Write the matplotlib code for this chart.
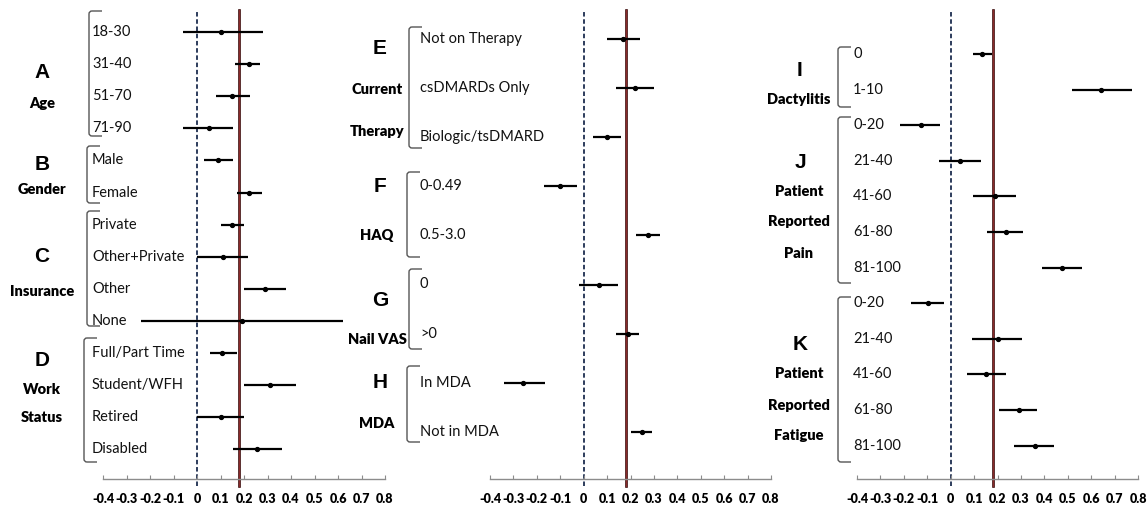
import matplotlib
matplotlib.use("Agg")
import matplotlib.pyplot as plt
from matplotlib.path import Path
from matplotlib.patches import PathPatch

# ---------------- data ----------------
left_labels = ["18-30", "31-40", "51-70", "71-90", "Male", "Female", "Private",
               "Other+Private", "Other", "None", "Full/Part Time", "Student/WFH",
               "Retired", "Disabled"]
left_est = [0.10, 0.22, 0.15, 0.05, 0.09, 0.22, 0.15, 0.11, 0.29, 0.19, 0.105, 0.31, 0.10, 0.255]
left_lo = [-0.06, 0.16, 0.08, -0.06, 0.03, 0.17, 0.10, 0.0, 0.20, -0.24, 0.055, 0.20, 0.0, 0.155]
left_hi = [0.28, 0.27, 0.225, 0.155, 0.155, 0.275, 0.20, 0.215, 0.38, 0.62, 0.17, 0.42, 0.20, 0.36]

mid_labels = ["Not on Therapy", "csDMARDs Only", "Biologic/tsDMARD", "0-0.49", "0.5-3.0",
              "0", ">0", "In MDA", "Not in MDA"]
mid_est = [0.17, 0.22, 0.10, -0.10, 0.275, 0.065, 0.19, -0.26, 0.25]
mid_lo = [0.10, 0.14, 0.04, -0.17, 0.225, -0.02, 0.14, -0.34, 0.20]
mid_hi = [0.24, 0.30, 0.16, -0.03, 0.325, 0.145, 0.235, -0.165, 0.29]

right_labels = ["0", "1-10", "0-20", "21-40", "41-60", "61-80", "81-100",
                "0-20", "21-40", "41-60", "61-80", "81-100"]
right_est = [0.135, 0.64, -0.125, 0.04, 0.19, 0.235, 0.475, -0.097, 0.20, 0.15, 0.29, 0.36]
right_lo = [0.095, 0.52, -0.215, -0.05, 0.095, 0.155, 0.39, -0.17, 0.09, 0.07, 0.205, 0.27]
right_hi = [0.175, 0.775, -0.045, 0.13, 0.28, 0.31, 0.56, -0.027, 0.305, 0.235, 0.37, 0.44]

overall_effect = 0.18
xticks = [-0.4, -0.3, -0.2, -0.1, 0, 0.1, 0.2, 0.3, 0.4, 0.5, 0.6, 0.7, 0.8]
xtick_labels = ["-0.4", "-0.3", "-0.2", "-0.1", "0", "0.1", "0.2", "0.3", "0.4", "0.5", "0.6", "0.7", "0.8"]

# groups: (letter, name lines, first row, last row)
left_groups = [("A", ["Age"], 0, 3), ("B", ["Gender"], 4, 5),
               ("C", ["Insurance"], 6, 9), ("D", ["Work", "Status"], 10, 13)]
mid_groups = [("E", ["Current", "Therapy"], 0, 2), ("F", ["HAQ"], 3, 4),
              ("G", ["Nail VAS"], 5, 6), ("H", ["MDA"], 7, 8)]
right_groups = [("I", ["Dactylitis"], 0, 1), ("J", ["Patient", "Reported", "Pain"], 2, 6),
                ("K", ["Patient", "Reported", "Fatigue"], 7, 11)]

# ---------------- figure ----------------
W, H = 1148, 507
fig = plt.figure(figsize=(W / 100, H / 100), dpi=100)
FONT = ["Lato", "DejaVu Sans"]


def px_x(p):
    return p / W


def fy(p):  # figure fraction from pixel row (top origin)
    return 1 - p / H


axis_bottom_px = 479
axis_top_px = 10


def make_panel(x_left_px, x_right_px, first_px, step_px):
    ax = fig.add_axes([px_x(x_left_px), fy(axis_bottom_px),
                       px_x(x_right_px - x_left_px), (axis_bottom_px - axis_top_px) / H])
    ybot = (axis_bottom_px - first_px) / step_px
    ytop = (axis_top_px - first_px) / step_px
    ax.set_xlim(-0.4, 0.8)
    ax.set_ylim(ybot, ytop)
    for s in ["top", "right", "left"]:
        ax.spines[s].set_visible(False)
    ax.spines["bottom"].set_color("#8c8c8c")
    ax.spines["bottom"].set_linewidth(1.0)
    ax.set_yticks([])
    ax.set_xticks(xticks)
    ax.set_xticklabels(xtick_labels, fontsize=9, fontweight="heavy", family=FONT)
    ax.tick_params(axis="x", direction="in", length=3, width=0.8, color="#8c8c8c", pad=10)
    ax.patch.set_alpha(0)
    return ax


def bracket(x_px, y0, y1, tick_px):
    trans = fig.transFigure
    x = px_x(x_px)
    xt = px_x(x_px + tick_px)
    r = px_x(3)
    ry = 3 / H
    verts = [(xt, y0), (x + r, y0), (x, y0), (x, y0 - ry),
             (x, y1 + ry), (x, y1), (x + r, y1), (xt, y1)]
    codes = [Path.MOVETO, Path.LINETO, Path.CURVE3, Path.CURVE3,
             Path.LINETO, Path.CURVE3, Path.CURVE3, Path.LINETO]
    patch = PathPatch(Path(verts, codes), fill=False, edgecolor="#555555", lw=1.0,
                      transform=trans)
    fig.add_artist(patch)


def draw_panel(ax, labels, est, lo, hi, groups, label_x_px, letter_x_px, name_x_px,
               brackets_px, letter_y_px, name_y_px):
    rows = list(range(len(labels)))
    ax.axvline(0, ymin=-0.015, ymax=1.0, color="#1c2d4f", lw=1.3, ls=(0, (2.5, 1.5)),
               clip_on=False, zorder=1)
    ax.axvline(overall_effect, ymin=-0.015, ymax=1.0, color="#3a0a0a", lw=1.9,
               clip_on=False, zorder=1)
    ax.axvline(overall_effect, ymin=-0.015, ymax=1.0, color="#8a2a2a", lw=0.8,
               clip_on=False, zorder=1)
    ax.hlines(rows, lo, hi, color="black", lw=1.6, zorder=3, clip_on=False)
    ax.plot(est, rows, "o", color="black", ms=2.8, zorder=4, clip_on=False)
    tr = ax.get_yaxis_transform()
    x_lab = (label_x_px - ax.get_position().x0 * W) / (ax.get_position().width * W)
    for r, lab in zip(rows, labels):
        ax.text(x_lab, r, lab, transform=tr, ha="left", va="center", fontsize=10.5,
                family=FONT, color="#111111")
    for (letter, names, a, b), (ytop, ybot, bx), ly, nys in zip(groups, brackets_px,
                                                              letter_y_px, name_y_px):
        bracket(bx, fy(ytop), fy(ybot), 13)
        fig.text(px_x(letter_x_px), fy(ly), letter, ha="center", va="center",
                 fontsize=15, fontweight="bold", family=["Liberation Sans", "DejaVu Sans"])
        for nm, ny in zip(names, nys):
            fig.text(px_x(name_x_px), fy(ny), nm, ha="center", va="center",
                     fontsize=10.5, fontweight="heavy", family=FONT)


ax1 = make_panel(103, 385, 32, 32.1)
ax2 = make_panel(490, 771, 39, 49.1)
ax3 = make_panel(857, 1138, 54, 35.6)

draw_panel(ax1, left_labels, left_est, left_lo, left_hi, left_groups,
           label_x_px=92, letter_x_px=42, name_x_px=42,
           brackets_px=[(11, 136, 89), (146, 203, 87), (211, 326, 87), (338, 462, 84)],
           letter_y_px=[72, 165, 256, 360],
           name_y_px=[[103], [190], [292], [390, 417]])

draw_panel(ax2, mid_labels, mid_est, mid_lo, mid_hi, mid_groups,
           label_x_px=420, letter_x_px=380, name_x_px=377,
           brackets_px=[(27, 148, 409), (172, 257, 407), (269, 349, 409), (366, 442, 407)],
           letter_y_px=[48, 187, 300, 383],
           name_y_px=[[90, 131], [236], [340], [423]])

draw_panel(ax3, right_labels, right_est, right_lo, right_hi, right_groups,
           label_x_px=853, letter_x_px=800, name_x_px=799,
           brackets_px=[(47, 107, 838), (117, 283, 838), (297, 462, 838)],
           letter_y_px=[70, 163, 345],
           name_y_px=[[100], [192, 222, 254], [373, 405, 435]])

fig.savefig("out.png", dpi=100)
